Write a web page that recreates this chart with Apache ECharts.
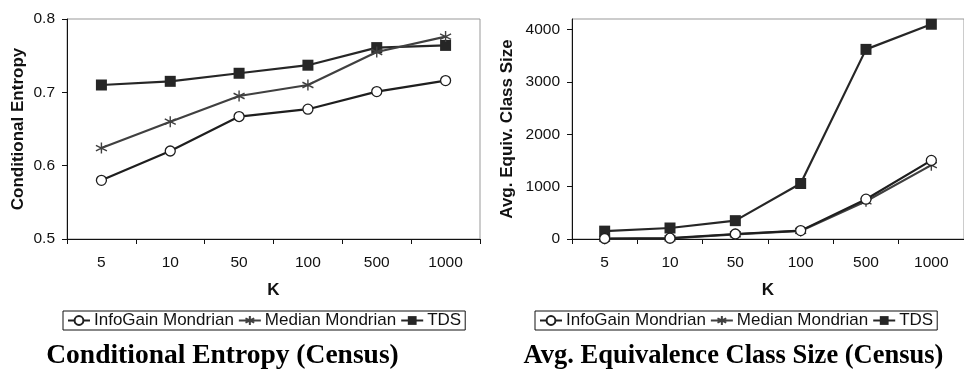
<!DOCTYPE html>
<html>
<head>
<meta charset="utf-8">
<script src="https://cdn.jsdelivr.net/npm/echarts@6/dist/echarts.min.js"></script>
<style>
html,body{margin:0;padding:0;background:#fff;}
#chart{width:964px;height:370px;}
</style>
</head>
<body>
<div id="chart"></div>
<script>
var categories = ['5', '10', '50', '100', '500', '1000'];
var seriesNames = ['InfoGain Mondrian', 'Median Mondrian', 'TDS'];
var entropyInfoGain = [0.580, 0.620, 0.667, 0.677, 0.701, 0.716];
var entropyMedian   = [0.624, 0.660, 0.695, 0.710, 0.755, 0.776];
var entropyTDS      = [0.710, 0.715, 0.726, 0.737, 0.761, 0.764];
var classInfoGain = [10, 15, 95, 160, 760, 1500];
var classMedian   = [5, 10, 90, 155, 720, 1410];
var classTDS      = [150, 210, 350, 1060, 3620, 4100];
var entropyTicks = [0.5, 0.6, 0.7, 0.8];
var classTicks = [0, 1000, 2000, 3000, 4000];
var titles = ['Conditional Entropy (Census)', 'Avg. Equivalence Class Size (Census)'];
var yNames = ['Conditional Entropy', 'Avg. Equiv. Class Size'];
var xName = 'K';

var SANS = '"Liberation Sans", Arial, sans-serif';
var SERIF = '"Liberation Serif", "Times New Roman", serif';
var asterisk = 'path://M5,0L5,10M0.7,2.5L9.3,7.5M0.7,7.5L9.3,2.5';

function seriesFor(idx, data) {
  var styles = [
    {symbol: 'circle', size: 10, color: '#1e1e1e', fill: '#fff', bw: 1.3},
    {symbol: asterisk, size: 11, color: '#404040', fill: 'none', bw: 1.4},
    {symbol: 'rect', size: 11, color: '#262626', fill: '#262626', bw: 0}
  ];
  return data.map(function (d, i) {
    var s = styles[i];
    return {
      name: seriesNames[i], type: 'line', xAxisIndex: idx, yAxisIndex: idx,
      data: d, symbol: s.symbol, symbolSize: s.size, showSymbol: true,
      lineStyle: {color: s.color, width: 2.2},
      itemStyle: {color: s.fill, borderColor: s.color, borderWidth: s.bw},
      z: 3 + (2 - i), animation: false
    };
  });
}

function xAxisFor(idx) {
  return {
    type: 'category', gridIndex: idx, data: categories, boundaryGap: true,
    name: xName, nameLocation: 'middle', nameGap: 43,
    nameTextStyle: {fontFamily: SANS, fontWeight: 'bold', fontSize: 17, color: '#111'},
    axisLine: {lineStyle: {color: '#111', width: 1}},
    axisTick: {show: true, length: 5, inside: false, lineStyle: {color: '#111'}},
    axisLabel: {fontFamily: SANS, fontSize: 15.5, color: '#111', margin: 16},
    splitLine: {show: false}
  };
}

var option = {
  animation: false,
  backgroundColor: '#fff',
  grid: [
    {left: 67, top: 19, width: 413, height: 220, show: true, borderColor: '#999', borderWidth: 1, containLabel: false},
    {left: 572, top: 19, width: 399, height: 220, show: true, borderColor: '#999', borderWidth: 1, containLabel: false}
  ],
  xAxis: [xAxisFor(0), xAxisFor(1)],
  yAxis: [
    {
      type: 'value', gridIndex: 0, min: 0.5, max: 0.8, interval: 0.1,
      name: yNames[0], nameLocation: 'middle', nameGap: 40,
      nameTextStyle: {fontFamily: SANS, fontWeight: 'bold', fontSize: 17, color: '#111'},
      axisLine: {show: true, lineStyle: {color: '#111', width: 1}},
      axisTick: {show: true, length: 5, lineStyle: {color: '#111'}, customValues: entropyTicks},
      axisLabel: {fontFamily: SANS, fontSize: 15.5, color: '#111', margin: 12, customValues: entropyTicks,
        formatter: function (v) { return Number(v).toFixed(1); }},
      splitLine: {show: false}
    },
    {
      type: 'value', gridIndex: 1, min: 0, max: 4200, interval: 1000,
      name: yNames[1], nameLocation: 'middle', nameGap: 56,
      nameTextStyle: {fontFamily: SANS, fontWeight: 'bold', fontSize: 17, color: '#111'},
      axisLine: {show: true, lineStyle: {color: '#111', width: 1}},
      axisTick: {show: true, length: 5, lineStyle: {color: '#111'}, customValues: classTicks},
      axisLabel: {fontFamily: SANS, fontSize: 15.5, color: '#111', margin: 12, customValues: classTicks,
        formatter: function (v) { return String(Math.round(v)); }},
      splitLine: {show: false}
    }
  ],
  legend: [
    {
      data: seriesNames, left: 63, top: 311, orient: 'horizontal',
      itemWidth: 22, itemHeight: 11, itemGap: 4, padding: [1, 4, 1, 4],
      borderColor: '#111', borderWidth: 1, backgroundColor: '#fff',
      textStyle: {fontFamily: SANS, fontSize: 17, color: '#111', padding: [0, 0, 0, -1]},
      selectedMode: false
    },
    {
      data: seriesNames, left: 535, top: 311, orient: 'horizontal',
      itemWidth: 22, itemHeight: 11, itemGap: 4, padding: [1, 4, 1, 4],
      borderColor: '#111', borderWidth: 1, backgroundColor: '#fff',
      textStyle: {fontFamily: SANS, fontSize: 17, color: '#111', padding: [0, 0, 0, -1]},
      selectedMode: false
    }
  ],
  graphic: [
    {type: 'text', x: 222.5, y: 356, style: {text: titles[0], align: 'center', verticalAlign: 'middle',
      font: 'bold 27.5px ' + SERIF, fill: '#000'}},
    {type: 'text', x: 733.5, y: 356, style: {text: titles[1], align: 'center', verticalAlign: 'middle',
      font: 'bold 26.5px ' + SERIF, fill: '#000'}}
  ],
  series: [].concat(
    seriesFor(0, [entropyInfoGain, entropyMedian, entropyTDS]),
    seriesFor(1, [classInfoGain, classMedian, classTDS])
  )
};

var chart = echarts.init(document.getElementById('chart'), null, {renderer: 'canvas'});
chart.setOption(option);
</script>
</body>
</html>
